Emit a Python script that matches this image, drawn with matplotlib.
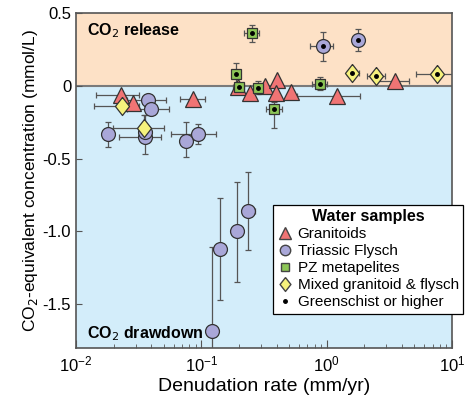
import numpy as np
import matplotlib.pyplot as plt
from matplotlib.lines import Line2D

plt.rcParams['font.family'] = ['Liberation Sans', 'DejaVu Sans']

# Granitoids: x, y, x-range, y-range
gr_x = [0.023, 0.0285, 0.086, 0.196, 0.245, 0.322, 0.40, 0.395, 0.52, 1.21, 3.5]
gr_y = [-0.06, -0.12, -0.09, -0.01, -0.05, 0.0, 0.04, -0.05, -0.04, -0.07, 0.035]
gr_xlo = [0.0145, 0.0285, 0.068, 0.196, 0.245, 0.322, 0.40, 0.395, 0.52, 0.58, 2.5]
gr_xhi = [0.032, 0.0285, 0.106, 0.196, 0.245, 0.322, 0.40, 0.395, 0.52, 1.85, 4.5]
gr_ylo = [-0.06, -0.12, -0.09, -0.01, -0.05, 0.0, 0.04, -0.05, -0.04, -0.07, 0.035]
gr_yhi = [-0.06, -0.12, -0.09, -0.01, -0.05, 0.0, 0.04, -0.05, -0.04, -0.07, 0.035]
gr_dot = [0, 0, 0, 0, 0, 0, 0, 0, 0, 0, 0]

# Triassic Flysch
tf_x = [0.0376, 0.040, 0.018, 0.0356, 0.0356, 0.0755, 0.094, 0.935, 1.78, 0.236, 0.193, 0.141, 0.1217]
tf_y = [-0.10, -0.16, -0.33, -0.35, -0.32, -0.38, -0.33, 0.27, 0.315, -0.86, -1.0, -1.12, -1.68]
tf_xlo = [0.0256, 0.0256, 0.018, 0.022, 0.0356, 0.0755, 0.057, 0.74, 1.78, 0.21, 0.193, 0.141, 0.1217]
tf_xhi = [0.052, 0.055, 0.018, 0.048, 0.0356, 0.0755, 0.131, 1.12, 1.78, 0.27, 0.193, 0.141, 0.1217]
tf_ylo = [-0.10, -0.19, -0.42, -0.47, -0.32, -0.49, -0.40, 0.17, 0.24, -1.13, -1.35, -1.47, -2.25]
tf_yhi = [-0.10, -0.13, -0.25, -0.20, -0.32, -0.25, -0.26, 0.37, 0.39, -0.59, -0.66, -0.77, -1.11]
tf_dot = [0, 0, 0, 0, 0, 0, 0, 1, 1, 0, 0, 0, 0]

# PZ metapelites
pz_x = [0.254, 0.189, 0.20, 0.284, 0.38, 0.88]
pz_y = [0.36, 0.08, -0.01, -0.015, -0.16, 0.015]
pz_xlo = [0.22, 0.175, 0.18, 0.26, 0.33, 0.76]
pz_xhi = [0.29, 0.205, 0.22, 0.31, 0.44, 1.0]
pz_ylo = [0.30, 0.0, -0.01, -0.055, -0.29, -0.03]
pz_yhi = [0.42, 0.16, -0.01, 0.03, -0.11, 0.06]
pz_dot = [1, 1, 1, 1, 1, 1]

# Mixed granitoid & flysch
mx_x = [0.0233, 0.0349, 1.6, 2.48, 7.6]
mx_y = [-0.14, -0.29, 0.09, 0.07, 0.08]
mx_xlo = [0.014, 0.0197, 1.45, 2.1, 5.2]
mx_xhi = [0.032, 0.05, 1.8, 2.9, 11.0]
mx_ylo = [-0.14, -0.36, 0.09, 0.07, 0.08]
mx_yhi = [-0.14, -0.20, 0.09, 0.07, 0.08]
mx_dot = [0, 0, 1, 1, 1]

# slightly tall diamond like the original
diamond = [(0, 1), (0.78, 0), (0, -1), (-0.78, 0), (0, 1)]

groups = [
    ('Granitoids', '^', '#F07474', 11, gr_x, gr_y, gr_xlo, gr_xhi, gr_ylo, gr_yhi, gr_dot),
    ('Triassic Flysch', 'o', '#A9A7D8', 10, tf_x, tf_y, tf_xlo, tf_xhi, tf_ylo, tf_yhi, tf_dot),
    ('PZ metapelites', 's', '#8DC657', 7, pz_x, pz_y, pz_xlo, pz_xhi, pz_ylo, pz_yhi, pz_dot),
    ('Mixed granitoid & flysch', diamond, '#F6F27C', 13, mx_x, mx_y, mx_xlo, mx_xhi, mx_ylo, mx_yhi, mx_dot),
]

fig = plt.figure(figsize=(4.68, 4.01), dpi=100)
ax = fig.add_axes([0.1624, 0.1322, 0.8034, 0.8354])

ax.axhspan(0, 0.5, color='#FDE1C6', zorder=0)
ax.axhspan(-1.8, 0, color='#D3EDFA', zorder=0)
ax.axhline(0, color='#7A7A7A', lw=1.5, zorder=1)

for name, mk, col, ms, x, y, xlo, xhi, ylo, yhi, dot in groups:
    x = np.array(x)
    y = np.array(y)
    xerr = [x - np.array(xlo), np.array(xhi) - x]
    yerr = [y - np.array(ylo), np.array(yhi) - y]
    ax.errorbar(x, y, xerr=xerr, yerr=yerr, fmt='none', ecolor='#555555',
                elinewidth=0.9, capsize=2.5, capthick=0.9, zorder=2)
    ax.plot(x, y, marker=mk, color=col, markersize=ms, markeredgecolor='#333333',
            markeredgewidth=0.9, ls='none', zorder=3)
    d = np.array(dot) == 1
    ax.plot(x[d], y[d], '.', color='black', markersize=5, zorder=4)

ax.set_xscale('log')
ax.set_xlim(0.01, 10)
ax.set_ylim(-1.8, 0.5)
ax.set_yticks([0.5, 0, -0.5, -1.0, -1.5])
ax.set_yticklabels(['0.5', '0', '-0.5', '-1.0', '-1.5'])
ax.tick_params(axis='both', which='both', direction='in', labelsize=12, color='#555555')
ax.tick_params(axis='x', which='major', length=6, pad=5)
ax.tick_params(axis='x', which='minor', length=3)
ax.tick_params(axis='y', length=4)
for s in ax.spines.values():
    s.set_color('#555555')
    s.set_linewidth(1.2)

ax.set_xlabel('Denudation rate (mm/yr)', fontsize=14, labelpad=2)
ax.set_ylabel('CO$_2$-equivalent concentration (mmol/L)', fontsize=12.5, labelpad=2)

ax.text(0.03, 0.975, 'CO$_2$ release', transform=ax.transAxes, fontsize=11.5,
        fontweight='bold', va='top', ha='left', zorder=5)
ax.text(0.03, 0.015, 'CO$_2$ drawdown', transform=ax.transAxes, fontsize=11.5,
        fontweight='bold', va='bottom', ha='left', zorder=5)

handles = [
    Line2D([], [], marker='^', color='#F07474', markeredgecolor='#444444', ls='none', markersize=8),
    Line2D([], [], marker='o', color='#A9A7D8', markeredgecolor='#444444', ls='none', markersize=7.5),
    Line2D([], [], marker='s', color='#8DC657', markeredgecolor='#444444', ls='none', markersize=6),
    Line2D([], [], marker=diamond, color='#F6F27C', markeredgecolor='#444444', ls='none', markersize=10),
    Line2D([], [], marker='.', color='black', ls='none', markersize=5),
]
labels = ['Granitoids', 'Triassic Flysch', 'PZ metapelites', 'Mixed granitoid & flysch',
          'Greenschist or higher']
leg = fig.legend(handles, labels, loc='upper right', bbox_to_anchor=(0.99, 0.49),
                 title='Water samples', fontsize=11, fancybox=False, framealpha=1,
                 edgecolor='black', handletextpad=0.3, handlelength=1.0,
                 borderpad=0.3, labelspacing=0.2, borderaxespad=0)
leg.get_title().set_fontweight('bold')
leg.get_title().set_fontsize(11.5)
leg.get_frame().set_linewidth(0.9)
leg.set_zorder(10)

fig.savefig('out.png', dpi=100)
